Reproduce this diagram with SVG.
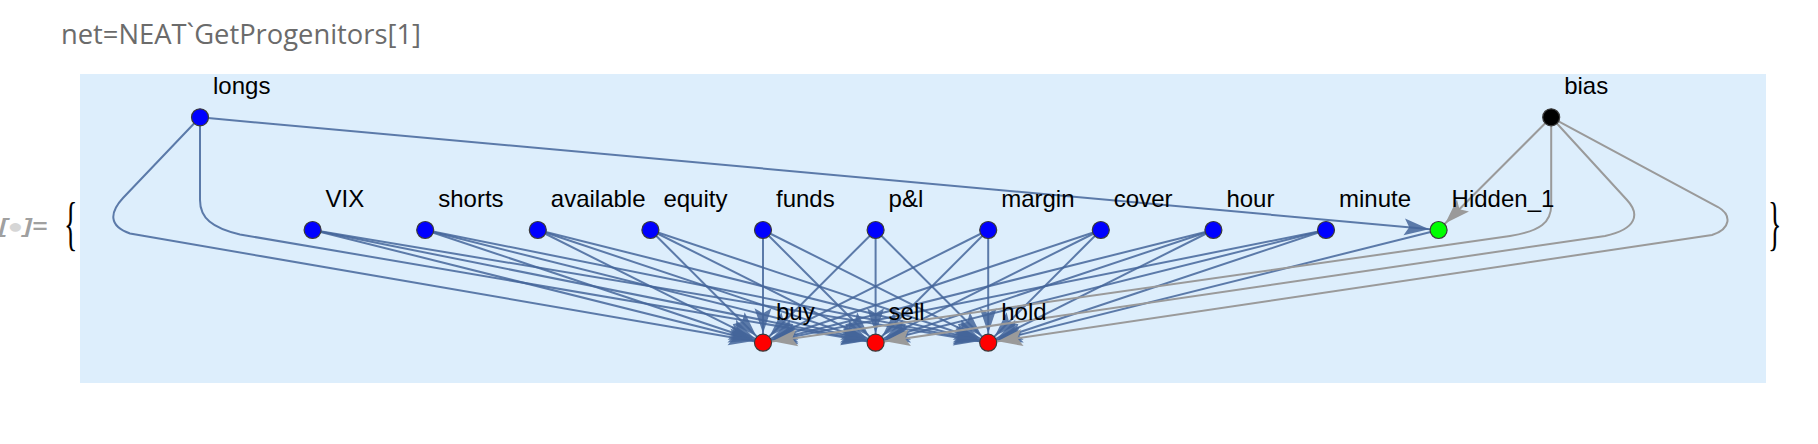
<svg xmlns="http://www.w3.org/2000/svg" width="1818" height="444" viewBox="0 0 1818 444">
<style>
.lbl{font-family:"Liberation Sans",Arial,sans-serif;font-size:24px;fill:#000}
.e{stroke:#44659a;stroke-opacity:0.85;stroke-width:2;fill:none;marker-end:url(#ab)}
.g{stroke:#9a9a9a;stroke-width:2;fill:none;marker-end:url(#ag)}
.n{stroke:#3a3a3a;stroke-width:1.2}
.in{fill:#0000ff}
.out{fill:#ff0000}
.hid{fill:#00ff00}
.bias{fill:#000000}
.brace{font-family:"Liberation Serif","Times New Roman",serif;font-size:28px;fill:#000}
</style>
<defs>
<marker id="ab" viewBox="-27 -10 40 20" markerWidth="40" markerHeight="20" refX="9.5" refY="0" orient="auto" markerUnits="userSpaceOnUse">
<path d="M0,0 L-25,-8.5 L-20,0 L-25,8.5 Z" fill="#44659a" fill-opacity="0.85"/>
</marker>
<marker id="ag" viewBox="-27 -10 40 20" markerWidth="40" markerHeight="20" refX="9.5" refY="0" orient="auto" markerUnits="userSpaceOnUse">
<path d="M0,0 L-25,-8.5 L-20,0 L-25,8.5 Z" fill="#9a9a9a"/>
</marker>
</defs>
<rect width="1818" height="444" fill="#ffffff"/>
<text x="61" y="43.5" font-family="'Open Sans','Noto Sans',sans-serif" font-size="27" fill="#6b6b6b" textLength="360" lengthAdjust="spacingAndGlyphs">net=NEAT`GetProgenitors[1]</text>
<text x="-1" y="233" font-family="'Liberation Sans',Arial,sans-serif" font-size="20" font-style="italic" font-weight="bold" fill="#a0a0a0" textLength="48" lengthAdjust="spacingAndGlyphs">[<tspan fill="#d6d6d6">●</tspan>]=</text>
<text class="brace" transform="translate(64,242.6) scale(1,2.1)">{</text>
<text class="brace" transform="translate(1768,242.6) scale(1,2.1)">}</text>
<rect x="80" y="74" width="1686" height="309" fill="#ddeefc"/>
<g id="connectors">
<path class="e" d="M200,117.3 L123,198 C110,212 108,226 130,233.5 L763,342.7"/>
<path class="e" d="M200,117.3 L200,200 C200,218 212,228 240,234.5 L875.6,342.7"/>
<line class="e" x1="200" y1="117.3" x2="1438.6" y2="230"/>
<line class="e" x1="312.6" y1="230" x2="763" y2="342.7"/>
<line class="e" x1="312.6" y1="230" x2="875.6" y2="342.7"/>
<line class="e" x1="312.6" y1="230" x2="988.2" y2="342.7"/>
<line class="e" x1="425.2" y1="230" x2="763" y2="342.7"/>
<line class="e" x1="425.2" y1="230" x2="875.6" y2="342.7"/>
<line class="e" x1="425.2" y1="230" x2="988.2" y2="342.7"/>
<line class="e" x1="537.8" y1="230" x2="763" y2="342.7"/>
<line class="e" x1="537.8" y1="230" x2="875.6" y2="342.7"/>
<line class="e" x1="537.8" y1="230" x2="988.2" y2="342.7"/>
<line class="e" x1="650.4" y1="230" x2="763" y2="342.7"/>
<line class="e" x1="650.4" y1="230" x2="875.6" y2="342.7"/>
<line class="e" x1="650.4" y1="230" x2="988.2" y2="342.7"/>
<line class="e" x1="763" y1="230" x2="763" y2="342.7"/>
<line class="e" x1="763" y1="230" x2="875.6" y2="342.7"/>
<line class="e" x1="763" y1="230" x2="988.2" y2="342.7"/>
<line class="e" x1="875.6" y1="230" x2="763" y2="342.7"/>
<line class="e" x1="875.6" y1="230" x2="875.6" y2="342.7"/>
<line class="e" x1="875.6" y1="230" x2="988.2" y2="342.7"/>
<line class="e" x1="988.2" y1="230" x2="763" y2="342.7"/>
<line class="e" x1="988.2" y1="230" x2="875.6" y2="342.7"/>
<line class="e" x1="988.2" y1="230" x2="988.2" y2="342.7"/>
<line class="e" x1="1100.8" y1="230" x2="763" y2="342.7"/>
<line class="e" x1="1100.8" y1="230" x2="875.6" y2="342.7"/>
<line class="e" x1="1100.8" y1="230" x2="988.2" y2="342.7"/>
<line class="e" x1="1213.4" y1="230" x2="763" y2="342.7"/>
<line class="e" x1="1213.4" y1="230" x2="875.6" y2="342.7"/>
<line class="e" x1="1213.4" y1="230" x2="988.2" y2="342.7"/>
<line class="e" x1="1326" y1="230" x2="763" y2="342.7"/>
<line class="e" x1="1326" y1="230" x2="875.6" y2="342.7"/>
<line class="e" x1="1326" y1="230" x2="988.2" y2="342.7"/>
<line class="e" x1="1438.6" y1="230" x2="988.2" y2="342.7"/>
<line class="g" x1="1551.2" y1="117.3" x2="1438.6" y2="230"/>
<path class="g" d="M1551.2,117.3 L1551.2,205 C1551.2,222 1541,231 1510,236 L763,342.7"/>
<path class="g" d="M1551.2,117.3 L1627,200 C1640,214 1637,229 1605,236 L875.6,342.7"/>
<path class="g" d="M1551.2,117.3 L1718,207 C1732,215 1731,229 1712,235 L988.2,342.7"/>
</g>
<g id="node-longs"><circle class="n in" cx="200" cy="117.3" r="8.5"/><text class="lbl" x="213" y="94.3">longs</text></g>
<g id="node-bias"><circle class="n bias" cx="1551.2" cy="117.3" r="8.5"/><text class="lbl" x="1564.2" y="94.3">bias</text></g>
<g id="node-VIX"><circle class="n in" cx="312.6" cy="230" r="8.5"/><text class="lbl" x="325.6" y="207">VIX</text></g>
<g id="node-shorts"><circle class="n in" cx="425.2" cy="230" r="8.5"/><text class="lbl" x="438.2" y="207">shorts</text></g>
<g id="node-available"><circle class="n in" cx="537.8" cy="230" r="8.5"/><text class="lbl" x="550.8" y="207">available</text></g>
<g id="node-equity"><circle class="n in" cx="650.4" cy="230" r="8.5"/><text class="lbl" x="663.4" y="207">equity</text></g>
<g id="node-funds"><circle class="n in" cx="763" cy="230" r="8.5"/><text class="lbl" x="776" y="207">funds</text></g>
<g id="node-pl"><circle class="n in" cx="875.6" cy="230" r="8.5"/><text class="lbl" x="888.6" y="207">p&amp;l</text></g>
<g id="node-margin"><circle class="n in" cx="988.2" cy="230" r="8.5"/><text class="lbl" x="1001.2" y="207">margin</text></g>
<g id="node-cover"><circle class="n in" cx="1100.8" cy="230" r="8.5"/><text class="lbl" x="1113.8" y="207">cover</text></g>
<g id="node-hour"><circle class="n in" cx="1213.4" cy="230" r="8.5"/><text class="lbl" x="1226.4" y="207">hour</text></g>
<g id="node-minute"><circle class="n in" cx="1326" cy="230" r="8.5"/><text class="lbl" x="1339" y="207">minute</text></g>
<g id="node-Hidden_1"><circle class="n hid" cx="1438.6" cy="230" r="8.5"/><text class="lbl" x="1451.6" y="207">Hidden_1</text></g>
<g id="node-buy"><circle class="n out" cx="763" cy="342.7" r="8.5"/><text class="lbl" x="776" y="319.7">buy</text></g>
<g id="node-sell"><circle class="n out" cx="875.6" cy="342.7" r="8.5"/><text class="lbl" x="888.6" y="319.7">sell</text></g>
<g id="node-hold"><circle class="n out" cx="988.2" cy="342.7" r="8.5"/><text class="lbl" x="1001.2" y="319.7">hold</text></g>
</svg>
